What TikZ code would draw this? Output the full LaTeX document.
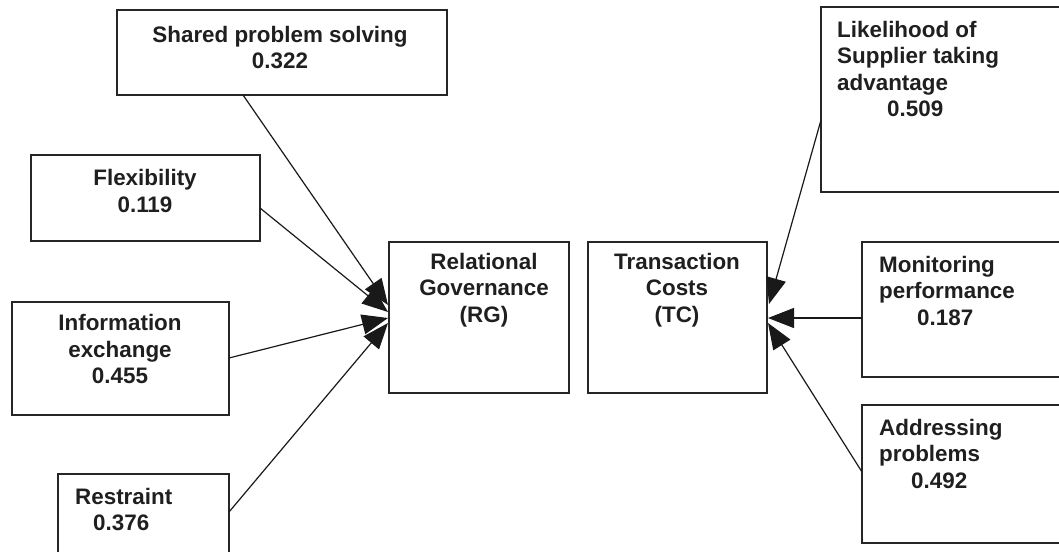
\documentclass[tikz,border=0pt]{standalone}
\usepackage{fontspec}
\setmainfont{Liberation Sans}
\usetikzlibrary{arrows.meta}
\begin{document}
\begin{tikzpicture}[x=1pt,y=-1pt,
  box/.style={draw=black!85,line width=1.5pt,rectangle,inner sep=0pt},
  lbl/.style={inner sep=0pt,text=black!88,font=\fontsize{22.4}{26.5}\selectfont\bfseries},
  arr/.style={line width=1.2pt,draw=black!90,-{Triangle[length=26pt,width=20pt]}}]
\useasboundingbox (0,0) rectangle (1059,551);
% boxes
\node[box,minimum width=330pt,minimum height=85pt] (sps) at (282,52.5) {};
\node[box,minimum width=229pt,minimum height=86pt] (flex) at (145.5,198) {};
\node[box,minimum width=217pt,minimum height=113pt] (info) at (120.5,358.5) {};
\node[box,minimum width=171pt,minimum height=126pt] (res) at (143.5,537) {};
\node[box,minimum width=180pt,minimum height=151pt] (rg) at (479,317.5) {};
\node[box,minimum width=179pt,minimum height=151pt] (tc) at (677.5,317.5) {};
\node[box,minimum width=279pt,minimum height=185pt] (lik) at (960.5,99.5) {};
\node[box,minimum width=238pt,minimum height=135pt] (mon) at (981,309.5) {};
\node[box,minimum width=238pt,minimum height=138pt] (adr) at (981,474) {};
% texts
\node[lbl,align=center] (tsps) at (280,47.5) {Shared problem solving\\0.322};
\node[lbl,align=center] (tflex) at (145,191) {Flexibility\\0.119};
\node[lbl,align=center] (tinfo) at (120,349) {Information\\exchange\\0.455};
\node[lbl,align=left,anchor=west] (tres) at (75,509.5) {Restraint\\\hspace*{18pt}0.376};
\node[lbl,align=center] (trg) at (484,290) {Relational\\Governance\\(RG)};
\node[lbl,align=center] (ttc) at (677,290) {Transaction\\Costs\\(TC)};
\node[lbl,align=left,anchor=west] (tlik) at (837,69) {Likelihood of\\Supplier taking\\advantage\\\hspace*{50pt}0.509};
\node[lbl,align=left,anchor=west] (tmon) at (879,290.5) {Monitoring\\performance\\\hspace*{38pt}0.187};
\node[lbl,align=left,anchor=west] (tadr) at (879,453.5) {Addressing\\problems\\\hspace*{32pt}0.492};
% connector end points
\coordinate (s1) at (243,95);
\coordinate (s2) at (260,208);
\coordinate (s3) at (229,358);
\coordinate (s4) at (229,512);
\coordinate (e1) at (388,305);
\coordinate (e2) at (388,312);
\coordinate (e3) at (388,318);
\coordinate (e4) at (388,323);
\coordinate (r1) at (821,120);
\coordinate (r2) at (862,318);
\coordinate (r3) at (862,472);
\coordinate (f1) at (769,304);
\coordinate (f2) at (768,318);
\coordinate (f3) at (768,323);
\draw[arr] (s1) -- (e1);
\draw[arr] (s2) -- (e2);
\draw[arr] (s3) -- (e3);
\draw[arr] (s4) -- (e4);
\draw[arr] (r1) -- (f1);
\draw[arr] (r2) -- (f2);
\draw[arr] (r3) -- (f3);
\end{tikzpicture}
\end{document}
